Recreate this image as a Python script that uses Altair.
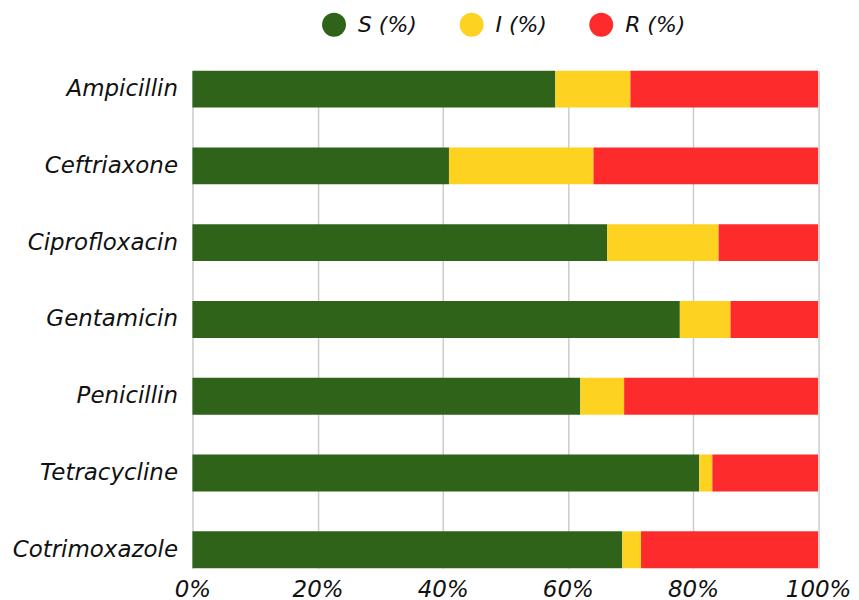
import altair as alt
import pandas as pd

drugs = ["Ampicillin", "Ceftriaxone", "Ciprofloxacin", "Gentamicin",
         "Penicillin", "Tetracycline", "Cotrimoxazole"]
s_vals = [58.0, 41.0, 66.3, 77.9, 62.0, 81.0, 68.7]
i_vals = [12.0, 23.1, 17.8, 8.1, 7.0, 2.1, 3.0]
r_vals = [30.0, 35.9, 15.9, 14.0, 31.0, 16.9, 28.3]
series = ["S (%)", "I (%)", "R (%)"]
colors = ["#2f6319", "#fed220", "#fe2b2c"]

rows = []
for d, s, i, r in zip(drugs, s_vals, i_vals, r_vals):
    for k, (name, v) in enumerate(zip(series, [s, i, r])):
        rows.append({"drug": d, "series": name, "value": v, "order": k})
df = pd.DataFrame(rows)

FONT = "DejaVu Sans"

chart = alt.Chart(df).mark_bar().encode(
    y=alt.Y("drug:N", sort=drugs, title=None,
            scale=alt.Scale(paddingInner=0.52, paddingOuter=0),
            axis=alt.Axis(labelFont=FONT, labelFontSize=23, labelFontStyle="italic",
                          labelColor="#111111", labelPadding=15, ticks=False,
                          domain=False, grid=False)),
    x=alt.X("value:Q", stack="normalize", title=None,
            scale=alt.Scale(domain=[0, 1], nice=False),
            axis=alt.Axis(format="%", values=[0, 0.2, 0.4, 0.6, 0.8, 1.0],
                          labelFont=FONT, labelFontSize=23, labelFontStyle="italic",
                          labelColor="#111111", labelPadding=10, ticks=False,
                          domain=False, grid=True, gridColor="#cccccc",
                          gridWidth=1.5, labelFlush=False)),
    color=alt.Color("series:N", sort=series,
                    scale=alt.Scale(domain=series, range=colors),
                    legend=alt.Legend(title=None, orient="none", direction="horizontal",
                                      legendX=130, legendY=-58,
                                      symbolType="circle", symbolSize=576,
                                      symbolStrokeWidth=0, symbolOpacity=1,
                                      labelFont=FONT, labelFontSize=22,
                                      labelFontStyle="italic", labelColor="#111111",
                                      labelOffset=12, columnPadding=42)),
    order=alt.Order("order:Q"),
).properties(
    width=627.5, height=499,
    autosize=alt.AutoSizeParams(type="none"),
    padding={"left": 185, "top": 62, "right": 33, "bottom": 32},
).configure_view(stroke=None)

chart.save("out.html", embed_options={"renderer": "svg", "actions": False})
